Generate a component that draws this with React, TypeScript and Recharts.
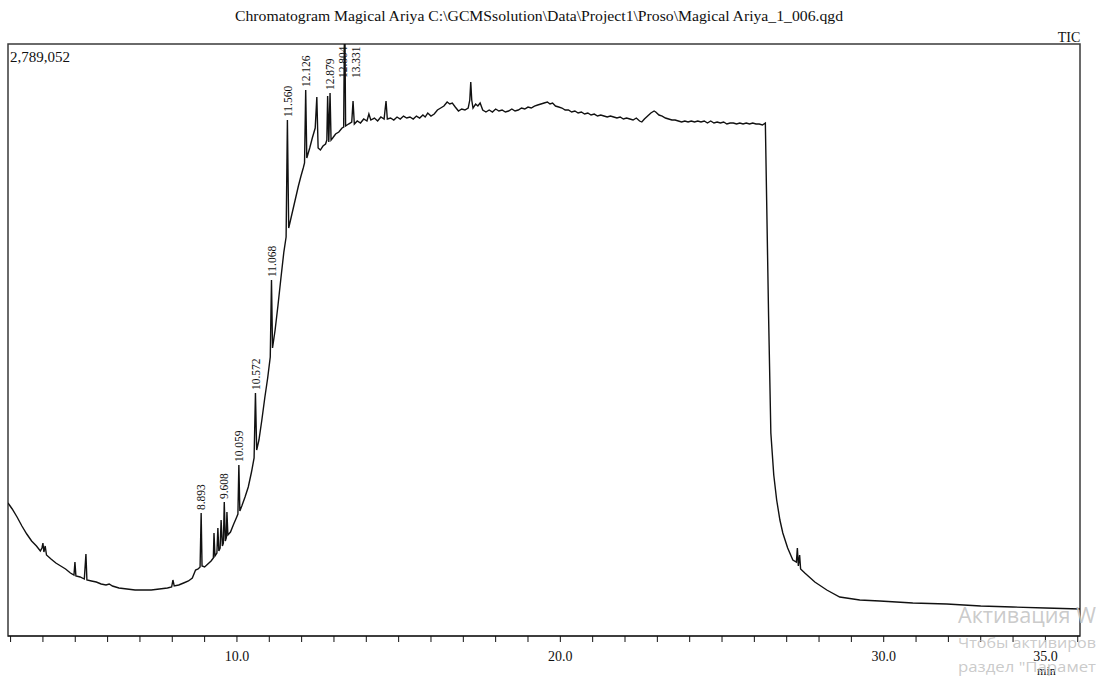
import React from 'react';
import { LineChart, Line, XAxis, YAxis, ReferenceArea, ReferenceDot } from 'recharts';

// ---- chromatogram (TIC) ----
const retentionTimes = [
  2.92, 3.05, 3.2, 3.35, 3.5, 3.65, 3.8, 3.92, 3.97, 4.0, 4.03, 4.07, 4.11, 4.25, 4.4, 4.55, 4.7, 4.85, 4.96, 4.99,
  5.02, 5.15, 5.28, 5.33, 5.36, 5.5, 5.65, 5.8, 5.95, 6.05, 6.15, 6.35, 6.6, 6.85, 7.1, 7.35, 7.6, 7.85, 7.98, 8.02,
  8.06, 8.2, 8.35, 8.5, 8.62, 8.72, 8.8, 8.86, 8.893, 8.92, 9.0, 9.1, 9.2, 9.27, 9.29, 9.32, 9.38, 9.41, 9.44, 9.48,
  9.51, 9.55, 9.58, 9.608, 9.64, 9.67, 9.69, 9.72, 9.8, 9.9, 9.98, 10.03, 10.059, 10.09, 10.15, 10.25, 10.35, 10.45, 10.53, 10.572,
  10.61, 10.68, 10.77, 10.86, 10.95, 11.03, 11.068, 11.1, 11.18, 11.27, 11.36, 11.45, 11.52, 11.56, 11.6, 11.7, 11.8, 11.9, 11.98, 12.05,
  12.09, 12.126, 12.16, 12.25, 12.33, 12.42, 12.47, 12.51, 12.58, 12.66, 12.74, 12.78, 12.804, 12.84, 12.879, 12.91, 12.96, 13.05, 13.15, 13.25,
  13.3, 13.331, 13.36, 13.45, 13.55, 13.59, 13.63, 13.72, 13.82, 13.92, 14.02, 14.08, 14.14, 14.25, 14.35, 14.45, 14.55, 14.61, 14.65, 14.75,
  14.85, 14.95, 15.05, 15.15, 15.25, 15.35, 15.45, 15.55, 15.65, 15.75, 15.82, 15.9, 16.0, 16.1, 16.2, 16.3, 16.4, 16.5, 16.58, 16.66,
  16.75, 16.85, 16.95, 17.05, 17.15, 17.2, 17.23, 17.26, 17.3, 17.38, 17.45, 17.52, 17.6, 17.7, 17.8, 17.9, 18.0, 18.1, 18.2, 18.3,
  18.4, 18.5, 18.6, 18.7, 18.8, 18.9, 19.0, 19.1, 19.2, 19.3, 19.4, 19.5, 19.6, 19.68, 19.76, 19.85, 19.95, 20.05, 20.15, 20.25,
  20.35, 20.45, 20.55, 20.65, 20.75, 20.85, 20.95, 21.05, 21.15, 21.25, 21.35, 21.45, 21.55, 21.65, 21.75, 21.85, 21.95, 22.05, 22.15, 22.25,
  22.35, 22.45, 22.52, 22.6, 22.7, 22.8, 22.9, 22.95, 23.05, 23.15, 23.25, 23.35, 23.45, 23.55, 23.65, 23.75, 23.85, 23.95, 24.05, 24.15,
  24.25, 24.35, 24.45, 24.55, 24.65, 24.75, 24.85, 24.95, 25.05, 25.15, 25.25, 25.35, 25.45, 25.55, 25.65, 25.75, 25.85, 25.95, 26.05, 26.15,
  26.25, 26.34, 26.38, 26.44, 26.51, 26.6, 26.69, 26.79, 26.88, 27.03, 27.19, 27.3, 27.33, 27.36, 27.4, 27.43, 27.56, 27.87, 28.24, 28.64,
  29.26, 29.88, 30.9, 31.95, 33.0, 33.99, 35.0, 36.07,
];

const ticIntensity = [
  626600, 598300, 560600, 518200, 480500, 447500, 424000, 400400, 414600, 438100, 395700, 424000, 381600, 362700, 343900, 329800, 315600, 296800, 287400, 348600,
  282700, 278000, 268500, 386300, 263800, 259100, 254400, 245000, 240300, 245000, 235600, 226100, 221400, 216700, 216700, 216700, 221400, 226100, 230800, 263800,
  235600, 240300, 249700, 259100, 273200, 310900, 315600, 325100, 579500, 329800, 325100, 339200, 353300, 367500, 485200, 376900, 391000, 508800, 400400, 414600,
  546500, 424000, 438100, 631300, 447500, 461700, 584200, 475800, 489900, 527600, 555900, 574700, 805600, 588900, 612400, 654800, 701900, 772600, 838600, 1144800,
  876200, 923400, 1017600, 1121200, 1215400, 1314400, 1677100, 1356800, 1441600, 1559300, 1686500, 1809000, 1879700, 2430900, 1922100, 1988000, 2054000, 2120000, 2167100, 2204700,
  2228300, 2572200, 2251900, 2299000, 2346100, 2393200, 2539200, 2299000, 2289500, 2308400, 2317800, 2336700, 2543900, 2327300, 2558100, 2336700, 2346100, 2365000, 2374300, 2393200,
  2398000, 3000000, 2402600, 2412000, 2421500, 2520400, 2412000, 2426200, 2416700, 2435600, 2426200, 2459100, 2430900, 2440300, 2426200, 2445000, 2435600, 2520400, 2435600, 2440300,
  2430900, 2445000, 2435600, 2449700, 2440300, 2445000, 2435600, 2449700, 2440300, 2454400, 2445000, 2463900, 2449700, 2459100, 2478000, 2487400, 2496800, 2515700, 2506300, 2511000,
  2492100, 2473300, 2482700, 2478000, 2487400, 2525100, 2609900, 2525100, 2487400, 2506300, 2496800, 2511000, 2478000, 2468600, 2478000, 2468600, 2482700, 2473300, 2478000, 2468600,
  2473300, 2482700, 2473300, 2478000, 2487400, 2482700, 2492100, 2487400, 2496800, 2501500, 2506300, 2511000, 2515700, 2506300, 2511000, 2496800, 2492100, 2487400, 2478000, 2478000,
  2468600, 2473300, 2463900, 2468600, 2459100, 2463900, 2454400, 2459100, 2449700, 2454400, 2449700, 2445000, 2449700, 2445000, 2440300, 2445000, 2435600, 2440300, 2435600, 2430900,
  2440300, 2426200, 2421500, 2435600, 2449700, 2463900, 2473300, 2468600, 2454400, 2449700, 2440300, 2435600, 2430900, 2430900, 2426200, 2421500, 2426200, 2421500, 2426200, 2421500,
  2426200, 2421500, 2426200, 2416700, 2426200, 2416700, 2421500, 2416700, 2421500, 2412000, 2416700, 2416700, 2412000, 2416700, 2412000, 2416700, 2412000, 2416700, 2412000, 2412000,
  2407300, 2416700, 2054000, 1507500, 956300, 758500, 640700, 546500, 485200, 414600, 358000, 348600, 414600, 329800, 381600, 315600, 296800, 254400, 216700, 183700,
  169600, 164900, 155500, 150800, 141300, 136600, 131900, 127200,
];

// labelled peaks, in the order their labels are laid out
const peakTimes = [8.893, 9.608, 10.059, 10.572, 11.068, 11.56, 12.126, 12.879, 12.804, 13.331];
const peakLabels = ['8.893', '9.608', '10.059', '10.572', '11.068', '11.560', '12.126', '12.879', '12.804', '13.331'];

// x axis: minor tick every minute, labels on the majors
const minuteTicks = [3, 4, 5, 6, 7, 8, 9, 10, 11, 12, 13, 14, 15, 16, 17, 18, 19, 20, 21, 22, 23, 24, 25, 26, 27, 28, 29, 30, 31, 32, 33, 34, 35, 36];
const majorTicks = [10, 20, 30, 35];

// Windows activation notice in the lower right corner (only the part inside the window)
const noticeLines = ['Активация W', 'Чтобы активиров', 'раздел "Парамет'];

const X_MIN = 2.92;
const X_MAX = 36.07;
const Y_MAX = 2789052;

const TITLE = 'Chromatogram Magical Ariya C:\\GCMSsolution\\Data\\Project1\\Proso\\Magical Ariya_1_006.qgd';

const W = 1097;
const H = 682;
const MARGIN = { top: 44, right: 17, bottom: 16, left: 8 };
const PLOT_W = W - MARGIN.left - MARGIN.right;
const SERIF = "'Liberation Serif', 'DejaVu Serif', 'Times New Roman', serif";
const SANS = "'Open Sans', 'Noto Sans', sans-serif";

const chartData = retentionTimes.map((t, i) => ({ t, tic: ticIntensity[i] }));

// place peak labels left to right, pushing a label right when it would overlap the previous one
const PX_PER_MIN = PLOT_W / (X_MAX - X_MIN);
const LABEL_GAP_MIN = 13 / PX_PER_MIN;
const peakMarks = (() => {
  let prev = -Infinity;
  return peakTimes.map((t, i) => {
    const idx = retentionTimes.indexOf(t);
    const top = ticIntensity[idx];
    const lx = Math.max(t, prev + LABEL_GAP_MIN);
    prev = lx;
    const raised = lx !== t || top > Y_MAX;
    return { t, lx, top, raised, text: peakLabels[i] };
  });
})();

const serifStyle = { fontFamily: SERIF };

const PeakLabel = (props: any) => {
  const { cx, cy, text, raised } = props;
  if (cx == null || cy == null) return null;
  const bottom = raised ? cy + 34 : cy - 3;
  return (
    <text
      x={cx}
      y={bottom}
      dy="0.36em"
      transform={`rotate(-90 ${cx} ${bottom})`}
      textAnchor="start"
      style={serifStyle}
      fontSize={11.5}
      fill="#111"
    >
      {text}
    </text>
  );
};

const MinuteTick = (props: any) => {
  const { x, y, payload } = props;
  const v = payload.value;
  if (!majorTicks.includes(v)) return <g />;
  const last = v === majorTicks[majorTicks.length - 1];
  return (
    <g>
      <text x={x} y={y} dy={17} textAnchor="middle" style={serifStyle} fontSize={14} fill="#111">
        {v.toFixed(1)}
      </text>
      {last && (
        <text x={x + 1} y={y} dy={31} textAnchor="middle" style={serifStyle} fontSize={12} fill="#111">
          min
        </text>
      )}
    </g>
  );
};

export default function App() {
  return (
    <div
      style={{
        position: 'absolute',
        left: 0,
        top: 0,
        width: W,
        height: H,
        overflow: 'hidden',
        background: '#ffffff',
        fontFamily: SERIF,
      }}
    >
      <LineChart width={W} height={H} data={chartData} margin={MARGIN}>
        <XAxis
          type="number"
          dataKey="t"
          domain={[X_MIN, X_MAX]}
          allowDataOverflow
          ticks={minuteTicks}
          interval={0}
          tick={<MinuteTick />}
          tickSize={6}
          tickMargin={2}
          height={30}
          axisLine={{ stroke: '#111', strokeWidth: 1.2 }}
          tickLine={{ stroke: '#111', strokeWidth: 1 }}
        />
        <YAxis hide width={0} type="number" domain={[0, Y_MAX]} allowDataOverflow />
        <ReferenceArea
          x1={X_MIN}
          x2={X_MAX}
          y1={0}
          y2={Y_MAX}
          fill="none"
          fillOpacity={0}
          stroke="#3a3a3a"
          strokeWidth={1.5}
          ifOverflow="visible"
        />
        <Line
          type="linear"
          dataKey="tic"
          stroke="#111"
          strokeWidth={1.4}
          dot={false}
          activeDot={false}
          isAnimationActive={false}
        />
        {peakMarks.map((m) => (
          <ReferenceDot
            key={m.text}
            x={m.lx}
            y={m.raised ? Y_MAX : m.top}
            r={0}
            ifOverflow="hidden"
            shape={(p: any) => <PeakLabel {...p} text={m.text} raised={m.raised} />}
          />
        ))}
      </LineChart>
      <svg
        width={W}
        height={H}
        style={{ position: 'absolute', left: 0, top: 0, pointerEvents: 'none' }}
      >
        <text
          x={539}
          y={21}
          textAnchor="middle"
          style={serifStyle}
          fontSize={15}
          textLength={608}
          lengthAdjust="spacingAndGlyphs"
          fill="#111"
        >
          {TITLE}
        </text>
        <text x={1069} y={42} textAnchor="middle" style={serifStyle} fontSize={14} fill="#111">
          TIC
        </text>
        <text x={10} y={62} style={serifStyle} fontSize={15} fill="#111">
          {Y_MAX.toLocaleString('en-US')}
        </text>
        <g style={{ fontFamily: SANS }} fill="#c4c4c4" fillOpacity={0.9}>
          <text x={958} y={623} fontSize={21} textLength={138} lengthAdjust="spacingAndGlyphs">
            {noticeLines[0]}
          </text>
          <text x={958} y={648} fontSize={15} textLength={138} lengthAdjust="spacingAndGlyphs">
            {noticeLines[1]}
          </text>
          <text x={958} y={672} fontSize={15} textLength={138} lengthAdjust="spacingAndGlyphs">
            {noticeLines[2]}
          </text>
        </g>
      </svg>
    </div>
  );
}
